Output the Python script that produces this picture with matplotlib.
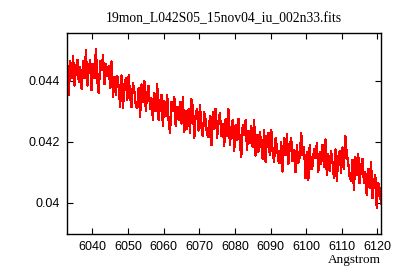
import numpy as np
import matplotlib
matplotlib.use("Agg")
import matplotlib.pyplot as plt

title = "19mon_L042S05_15nov04_iu_002n33.fits"
x_label = "Angstrom"
wave_start = 6032.6
wave_step = 0.4

flux = [
    0.04380, 0.04450, 0.04355, 0.04465, 0.04410, 0.04480, 0.04385, 0.04440, 0.04470, 0.04395,
    0.04445, 0.04375, 0.04465, 0.04410, 0.04500, 0.04385, 0.04440, 0.04470, 0.04370, 0.04455,
    0.04410, 0.04505, 0.04400, 0.04360, 0.04465, 0.04435, 0.04485, 0.04390, 0.04455, 0.04415,
    0.04450, 0.04377, 0.04464, 0.04346, 0.04413, 0.04355, 0.04417, 0.04379, 0.04315, 0.04418,
    0.04312, 0.04390, 0.04408, 0.04336, 0.04419, 0.04347, 0.04315, 0.04393, 0.04366, 0.04319,
    0.04310, 0.04378, 0.04281, 0.04389, 0.04332, 0.04400, 0.04303, 0.04356, 0.04384, 0.04307,
    0.04343, 0.04271, 0.04359, 0.04302, 0.04390, 0.04273, 0.04326, 0.04354, 0.04252, 0.04335,
    0.04285, 0.04353, 0.04271, 0.04229, 0.04332, 0.04300, 0.04348, 0.04251, 0.04315, 0.04273,
    0.04331, 0.04260, 0.04348, 0.04232, 0.04300, 0.04244, 0.04307, 0.04230, 0.04340, 0.04313,
    0.04212, 0.04290, 0.04309, 0.04237, 0.04321, 0.04249, 0.04218, 0.04297, 0.04270, 0.04224,
    0.04217, 0.04285, 0.04189, 0.04297, 0.04241, 0.04309, 0.04213, 0.04266, 0.04295, 0.04218,
    0.04257, 0.04186, 0.04274, 0.04218, 0.04307, 0.04190, 0.04244, 0.04273, 0.04171, 0.04255,
    0.04208, 0.04276, 0.04194, 0.04152, 0.04255, 0.04223, 0.04271, 0.04174, 0.04237, 0.04195,
    0.04253, 0.04182, 0.04271, 0.04155, 0.04224, 0.04168, 0.04232, 0.04196, 0.04145, 0.04239,
    0.04135, 0.04212, 0.04230, 0.04157, 0.04240, 0.04167, 0.04135, 0.04212, 0.04185, 0.04137,
    0.04130, 0.04199, 0.04103, 0.04212, 0.04156, 0.04225, 0.04129, 0.04183, 0.04212, 0.04136,
    0.04173, 0.04101, 0.04189, 0.04132, 0.04150, 0.04230, 0.04156, 0.04184, 0.04082, 0.04166,
    0.04075, 0.04190, 0.04110, 0.04120, 0.04176, 0.04146, 0.04196, 0.04102, 0.04167, 0.04127,
    0.04190, 0.04119, 0.04208, 0.04092, 0.04161, 0.04105, 0.04169, 0.04133, 0.04082, 0.04175,
    0.04072, 0.04151, 0.04170, 0.04098, 0.04182, 0.04111, 0.04220, 0.04158, 0.04132, 0.04085,
    0.04072, 0.04140, 0.04043, 0.04150, 0.04093, 0.04161, 0.04064, 0.04117, 0.04145, 0.04067,
    0.04100, 0.04025, 0.04110, 0.04050, 0.04135, 0.04015, 0.04065, 0.04090, 0.03985, 0.04065,
    0.04049, 0.03998,
]

x_ticks = [6040, 6050, 6060, 6070, 6080, 6090, 6100, 6110, 6120]
y_ticks = [0.040, 0.042, 0.044]
y_tick_labels = ["0.04", "0.042", "0.044"]
x_range = (6032.8, 6121.0)
y_range = (0.03898, 0.04557)

wave = wave_start + wave_step * np.arange(len(flux))

fig = plt.figure(figsize=(4.0, 2.8), dpi=100)
ax = fig.add_axes([0.1667, 0.1643, 0.7858, 0.7177])

ax.plot(wave + wave_step * 0.1, flux, color="black", lw=0.6, antialiased=False)
ax.plot(wave, flux, color="#ff0000", lw=0.9, antialiased=False)

ax.set_xlim(*x_range)
ax.set_ylim(*y_range)
ax.set_xticks(x_ticks)
ax.set_xticklabels([str(t) for t in x_ticks], fontsize=9, family="Liberation Sans")
ax.set_yticks(y_ticks)
ax.set_yticklabels(y_tick_labels, fontsize=9, family="Liberation Sans")
ax.tick_params(direction="in", length=4, width=0.8, top=True, right=True, pad=5)
for s in ax.spines.values():
    s.set_linewidth(1.0)

ax.set_title(title, fontsize=9.8, family="Liberation Serif", pad=8)
ax.text(1.0, -0.1, x_label, transform=ax.transAxes, ha="right", va="top",
        fontsize=9.5, family="Liberation Serif")

fig.savefig("out.png", dpi=100)
